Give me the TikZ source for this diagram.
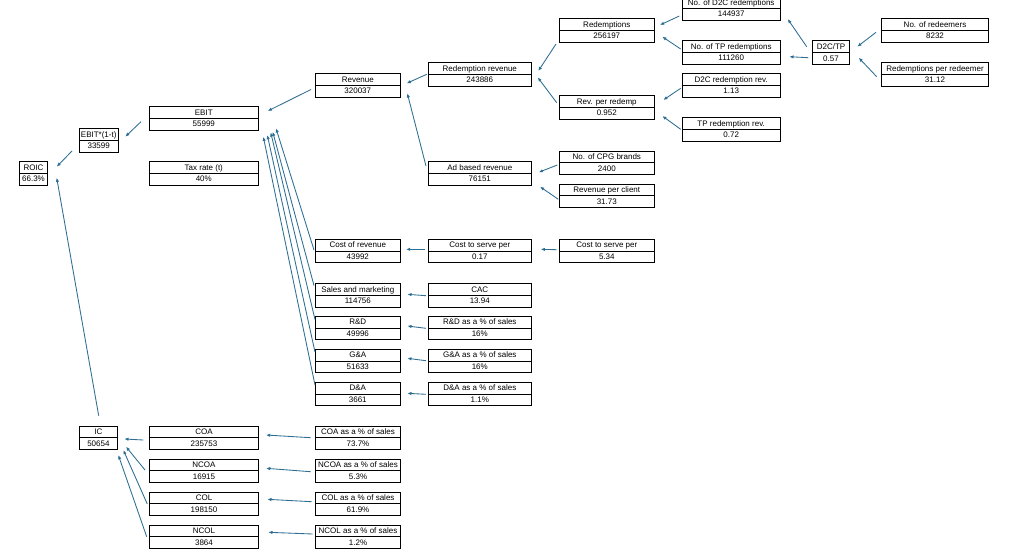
\documentclass[tikz,border=0pt]{standalone}
\usepackage{fontspec}
\setmainfont{Liberation Sans}
\usetikzlibrary{shapes.multipart,calc,arrows.meta}
\definecolor{arrowc}{RGB}{44,110,146}
\newcommand\st{\rule[-2.9pt]{0pt}{11pt}}
\newcommand\bx[6]{\node[bx, minimum width=#4pt] (#1) at (#2,#3) {\st #5\nodepart{two}\st #6};}
\newcommand\arr[4]{\draw[conn] ($(#1)+(#2)$) -- ($(#3)+(#4)$);}
\tikzset{
  bx/.style={draw=black, line width=0.8pt, rectangle split, rectangle split parts=2,
    inner xsep=1pt, inner ysep=0pt, font=\fontsize{8}{9}\selectfont, fill=white},
  conn/.style={draw=arrowc, line width=0.85pt, -{Latex[length=4.2pt,width=3.4pt]}}
}
\begin{document}
\begin{tikzpicture}[x=1pt,y=-1pt]
\useasboundingbox (0,0) rectangle (1018,558);
\fill[white] (0,0) rectangle (1018,558);
% boxes
\bx{roic}{33.5}{173.3}{28.4}{ROIC}{66.3\%}
\bx{ebt}{98.7}{140.3}{38.7}{EBIT*(1-t)}{33599}
\bx{ebit}{203.8}{118.3}{109}{EBIT}{55999}
\bx{tax}{203.8}{173.3}{109}{Tax rate (t)}{40\%}
\bx{rev}{357.8}{85.3}{85}{Revenue}{320037}
\bx{redrev}{479.8}{74.3}{103}{Redemption revenue}{243886}
\bx{adrev}{479.8}{173.3}{103}{Ad based revenue}{76151}
\bx{cpg}{606.8}{162.7}{95}{No. of CPG brands}{2400}
\bx{rpc}{606.8}{195.7}{95}{Revenue per client}{31.73}
\bx{cor}{357.8}{251}{85}{Cost of revenue}{43992}
\bx{ctsa}{479.8}{251}{103}{Cost to serve per}{0.17}
\bx{ctsb}{606.8}{251}{95}{Cost to serve per}{5.34}
\bx{sm}{357.8}{295.3}{85}{Sales and marketing}{114756}
\bx{rd}{357.8}{328}{85}{R\&D}{49996}
\bx{ga}{357.8}{361}{85}{G\&A}{51633}
\bx{da}{357.8}{394}{85}{D\&A}{3661}
\bx{cac}{479.8}{295.3}{103}{CAC}{13.94}
\bx{rdp}{479.8}{328}{103}{R\&D as a \% of sales}{16\%}
\bx{gap}{479.8}{361}{103}{G\&A as a \% of sales}{16\%}
\bx{dap}{479.8}{394}{103}{D\&A as a \% of sales}{1.1\%}
\bx{redm}{606.8}{30.3}{95}{Redemptions}{256197}
\bx{rpr}{606.8}{107.3}{95}{Rev. per redemp}{0.952}
\bx{d2cr}{731.2}{8.3}{97.7}{No. of D2C redemptions}{144937}
\bx{tpr}{731.2}{52.3}{97.7}{No. of TP redemptions}{111260}
\bx{d2crev}{731.2}{85.3}{97.7}{D2C redemption rev.}{1.13}
\bx{tprev}{731.2}{129.3}{97.7}{TP redemption rev.}{0.72}
\bx{d2ctp}{831}{52.5}{37.4}{D2C/TP}{0.57}
\bx{nred}{935}{30.3}{107.4}{No. of redeemers}{8232}
\bx{rpred}{935}{74.3}{107.4}{Redemptions per redeemer}{31.12}
\bx{ic}{98.4}{437.7}{38.7}{IC}{50654}
\bx{coa}{204}{437.7}{109.4}{COA}{235753}
\bx{ncoa}{204}{470.7}{109.4}{NCOA}{16915}
\bx{col}{204}{503.7}{109.4}{COL}{198150}
\bx{ncol}{204}{536.7}{109.4}{NCOL}{3864}
\bx{coap}{358}{437.7}{85.4}{COA as a \% of sales}{73.7\%}
\bx{ncoap}{358}{470.7}{85.4}{NCOA as a \% of sales}{5.3\%}
\bx{colp}{358}{503.7}{85.4}{COL as a \% of sales}{61.9\%}
\bx{ncolp}{358}{536.7}{85.4}{NCOL as a \% of sales}{1.2\%}
% connectors
\arr{ebt}{-26.7,10.7}{roic}{23.2,-6.6}
\arr{ebit}{-62.8,3.4}{ebt}{26.6,-3.6}
\arr{ic}{0.3,-22}{roic}{23.2,4.4}
\arr{rev}{-46.8,4.2}{ebit}{63.9,-7.3}
\arr{cor}{-43.8,-1}{ebit}{72.2,10}
\arr{sm}{-43.8,-9.8}{ebit}{68.9,13.4}
\arr{rd}{-42.8,-8.5}{ebit}{66.9,14}
\arr{ga}{-42.8,-9}{ebit}{63.5,16.7}
\arr{da}{-42.8,-9}{ebit}{59.5,18.4}
\arr{redrev}{-53.1,0}{rev}{48.9,-2}
\arr{adrev}{-53.8,-7.3}{rev}{49.5,8}
\arr{redm}{-50.8,13.7}{redrev}{58.5,-3.3}
\arr{rpr}{-50.1,-4.6}{redrev}{57.9,3}
\arr{d2cr}{-51.9,7.7}{redm}{53.2,-5.3}
\arr{tpr}{-50.5,-3.3}{redm}{55.5,6.4}
\arr{d2crev}{-50.5,3}{rpr}{56.5,-7.3}
\arr{tprev}{-50.5,0}{rpr}{55.5,8.7}
\arr{d2ctp}{-24.3,-5.8}{d2cr}{56.5,10.7}
\arr{d2ctp}{-22.7,5.2}{tpr}{58.1,4.4}
\arr{nred}{-59,2}{d2ctp}{26.3,-5.8}
\arr{rpred}{-58.3,2.4}{d2ctp}{27.7,5.2}
\arr{cpg}{-49.5,2.3}{adrev}{58.9,-1}
\arr{rpc}{-48.5,3.6}{adrev}{60.2,13.4}
\arr{ctsa}{-54.8,-1.7}{cor}{48.2,-1.7}
\arr{ctsb}{-50.1,-1.3}{ctsa}{60.9,-1.7}
\arr{cac}{-53.8,0.4}{sm}{49.5,-1}
\arr{rdp}{-53.8,0.3}{rd}{49.5,-2}
\arr{gap}{-53.8,-0.3}{ga}{49.5,-2.7}
\arr{dap}{-53.8,0.3}{da}{49.5,-0.7}
\arr{coap}{-47.3,0}{coa}{62,-2.7}
\arr{ncoap}{-47.3,1}{ncoa}{62,-2.4}
\arr{colp}{-46.3,-2}{col}{63.3,-4.4}
\arr{ncolp}{-45.3,-2.7}{ncol}{64.3,-4.4}
\arr{coa}{-60.7,2.3}{ic}{25.9,1.3}
\arr{ncoa}{-59,-0.7}{ic}{27.6,9}
\arr{col}{-56.7,0.3}{ic}{24.9,12.3}
\arr{ncol}{-57.3,0}{ic}{19.9,17.3}
\end{tikzpicture}
\end{document}
